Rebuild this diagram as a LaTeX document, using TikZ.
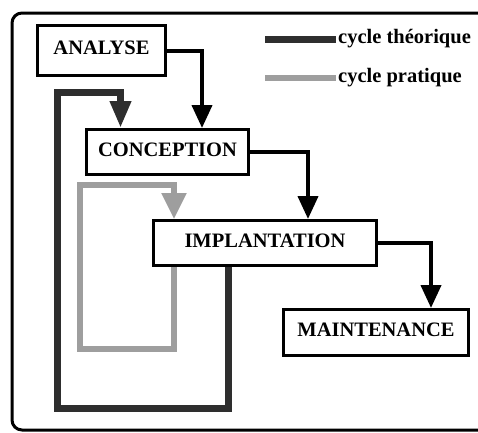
\documentclass[tikz,border=0pt]{standalone}
\usepackage{fontspec}
\setmainfont{Liberation Serif}
\usetikzlibrary{arrows.meta}

\begin{document}
\begin{tikzpicture}[x=1pt,y=-1pt,>={Triangle[width=20pt,length=23pt]},
  box/.style={draw,line width=3pt,inner sep=0pt,text height=14pt,text depth=6pt,
    font=\bfseries\fontsize{20.5}{24}\selectfont},
  flow/.style={->,line width=4pt},
  theo/.style={line width=7pt,draw=black!82,
    -{Triangle[width=20pt,length=27pt]}},
  prat/.style={line width=5.5pt,draw=black!38,
    -{Triangle[width=24pt,length=26pt]}},
  legend/.style={anchor=west,inner sep=0pt,font=\bfseries\fontsize{20.5}{24}\selectfont}]
  \useasboundingbox (0,0) rectangle (478,432);
  % outer frame, its right side falls off the page
  \draw[line width=3pt,rounded corners=10pt] (12,13) rectangle (490,430);

  \node[box,minimum width=128pt,minimum height=50pt] (ANALYSE) at (101.5,50.5) {ANALYSE};
  \node[box,minimum width=162pt,minimum height=45pt] (CONCEPTION) at (167.5,152) {CONCEPTION};
  \node[box,minimum width=223pt,minimum height=45pt] (IMPLANTATION) at (265,243) {IMPLANTATION};
  \node[box,minimum width=185pt,minimum height=46pt] (MAINTENANCE) at (376,332.5) {MAINTENANCE};

  \node[legend] (leg_t) at (338,39) {cycle théorique};
  \node[legend] (leg_p) at (338,78) {cycle pratique};
  \draw[theo,-] ([xshift=-73pt]leg_t.west) -- ([xshift=-2pt]leg_t.west);
  \draw[prat,-] ([xshift=-73pt]leg_p.west) -- ([xshift=-2pt]leg_p.west);

  \draw[flow] (ANALYSE.east) -| ([xshift=34.5pt]CONCEPTION.north);
  \draw[flow] (CONCEPTION.east) -| ([xshift=43pt]IMPLANTATION.north);
  \draw[flow] (IMPLANTATION.east) -| ([xshift=55pt]MAINTENANCE.north);

  % cycles
  \draw[theo] ([xshift=-37pt]IMPLANTATION.south) -- ++(0,141) -| (57,92)
    -| ([xshift=-47pt]CONCEPTION.north);
  \draw[prat] ([xshift=-91pt]IMPLANTATION.south) -- ++(0,82) -| (80,185)
    -| ([xshift=-91pt]IMPLANTATION.north);
\end{tikzpicture}
\end{document}
